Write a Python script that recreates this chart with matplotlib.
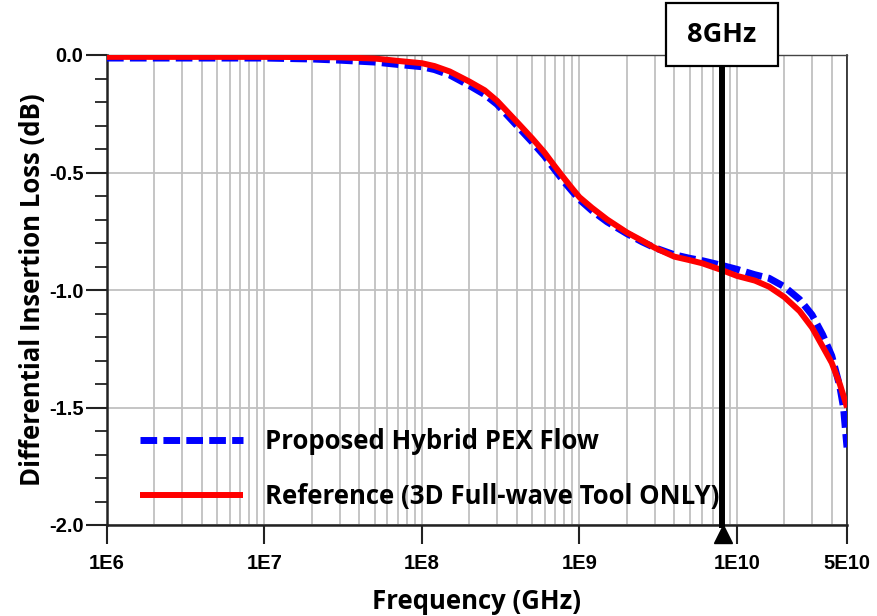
import matplotlib
matplotlib.use("Agg")
import matplotlib.pyplot as plt
import matplotlib.ticker as mticker
import matplotlib.transforms as mtransforms
from matplotlib.patches import Rectangle
import numpy as np

# frequency points (Hz)
freq = [1e6, 1e7, 2e7, 3e7, 5e7, 7e7, 1e8, 1.2e8, 1.5e8, 2e8, 2.5e8, 3e8,
        4e8, 5e8, 6e8, 7e8, 8e8, 9e8, 1e9, 1.2e9, 1.5e9, 2e9, 2.5e9, 3e9,
        4e9, 5e9, 6e9, 8e9, 1e10, 1.3e10, 1.6e10, 2e10, 2.5e10, 3e10,
        3.5e10, 4e10, 4.5e10, 4.75e10, 5e10]

# Proposed Hybrid PEX Flow (dB)
proposed = [-0.013, -0.013, -0.017, -0.022, -0.03, -0.04, -0.05, -0.062,
            -0.085, -0.13, -0.168, -0.21, -0.30, -0.37, -0.43, -0.49, -0.54,
            -0.58, -0.615, -0.662, -0.71, -0.76, -0.795, -0.82, -0.85, -0.865,
            -0.875, -0.895, -0.912, -0.935, -0.95, -0.986, -1.04, -1.106,
            -1.19, -1.28, -1.41, -1.50, -1.67]

# Reference (3D Full-wave Tool ONLY) (dB)
reference = [-0.008, -0.008, -0.009, -0.010, -0.015, -0.025, -0.035, -0.047,
             -0.07, -0.113, -0.15, -0.195, -0.284, -0.354, -0.415, -0.475,
             -0.525, -0.568, -0.605, -0.65, -0.70, -0.755, -0.79, -0.82,
             -0.858, -0.873, -0.886, -0.915, -0.94, -0.96, -0.986, -1.03,
             -1.09, -1.16, -1.24, -1.31, -1.40, -1.45, -1.50]

xticks = [1e6, 1e7, 1e8, 1e9, 1e10, 5e10]
xticklabels = ["1E6", "1E7", "1E8", "1E9", "1E10", "5E10"]
yticks = [0.0, -0.5, -1.0, -1.5, -2.0]
yticklabels = ["0.0", "-0.5", "-1.0", "-1.5", "-2.0"]
marker_freq = 8e9
marker_label = "8GHz"

plt.rcParams['font.family'] = ['Open Sans', 'DejaVu Sans']

fig = plt.figure(figsize=(8.77, 6.16), dpi=100)
ax = fig.add_axes([107 / 877, 91 / 616, 740 / 877, 470 / 616])

ax.plot(freq, proposed, color="#0000ff", lw=5, dashes=(2.4, 0.9),
        dash_capstyle="butt", label="Proposed Hybrid PEX Flow", zorder=3)
ax.plot(freq, reference, color="#ff0000", lw=4.3, solid_capstyle="butt",
        label="Reference (3D Full-wave Tool ONLY)", zorder=4)

ax.set_xscale("log")
ax.set_xlim(1e6, 5e10)
ax.set_ylim(-2.0, 0.0)

ax.xaxis.set_major_locator(mticker.FixedLocator(xticks))
ax.xaxis.set_major_formatter(mticker.FixedFormatter(xticklabels))
ax.xaxis.set_minor_locator(mticker.LogLocator(base=10, subs=np.arange(2, 10)))
ax.xaxis.set_minor_formatter(mticker.NullFormatter())
ax.yaxis.set_major_locator(mticker.FixedLocator(yticks))
ax.yaxis.set_major_formatter(mticker.FixedFormatter(yticklabels))
ax.yaxis.set_minor_locator(mticker.MultipleLocator(0.1))

for lab in ax.get_xticklabels() + ax.get_yticklabels():
    lab.set_family("Liberation Sans")
    lab.set_weight("bold")
    lab.set_fontsize(14.5)

ax.tick_params(axis="x", which="major", direction="out", length=14, width=1.5,
               pad=7, color="#222222")
ax.tick_params(axis="x", which="minor", length=0)
ax.tick_params(axis="y", which="major", direction="out", length=15, width=1.5,
               pad=2, color="#222222")
ax.tick_params(axis="y", which="minor", direction="out", length=8.5, width=1.3,
               color="#222222")

ax.grid(True, axis="x", which="both", color="#c0c0c0", lw=1.3)
ax.grid(True, axis="y", which="major", color="#c0c0c0", lw=1.3)
ax.set_axisbelow(True)

for side in ["left", "bottom"]:
    ax.spines[side].set_linewidth(1.8)
    ax.spines[side].set_color("#222222")
ax.spines["top"].set_linewidth(1.0)
ax.spines["top"].set_color("#444444")
ax.spines["right"].set_linewidth(1.2)
ax.spines["right"].set_color("#222222")

ax.set_xlabel("Frequency (GHz)", fontsize=18.5, fontweight="bold", labelpad=11)
ax.set_ylabel("Differential Insertion Loss (dB)", fontsize=18.5,
              fontweight="bold", labelpad=2)

leg = ax.legend(loc="center left", bbox_to_anchor=(0.031, 0.119),
                borderaxespad=0, frameon=False,
                prop=dict(family="Open Sans", weight="bold", size=18.5),
                handlelength=4.0, handletextpad=0.86, labelspacing=1.1)

# 8 GHz marker: vertical line, triangle on the axis, labelled box on top
ax.axvline(marker_freq, ymin=0, ymax=1.03, color="black", lw=4.3, zorder=6,
           clip_on=False)
tri = mtransforms.offset_copy(ax.transData, fig=fig, x=1, y=-9, units="dots")
ax.plot([marker_freq], [-2.0], marker="^", color="black", markersize=13.5,
        transform=tri, clip_on=False, zorder=7)
fig.patches.append(Rectangle((666 / 877, 1 - 66 / 616), 112 / 877, 63 / 616,
                             transform=fig.transFigure, fc="white", ec="black",
                             lw=1.6, zorder=8))
fig.text(722 / 877, 1 - 35 / 616, marker_label, ha="center", va="center",
         fontsize=19.5, fontweight="bold", zorder=9)

fig.savefig("out.png", dpi=100)
